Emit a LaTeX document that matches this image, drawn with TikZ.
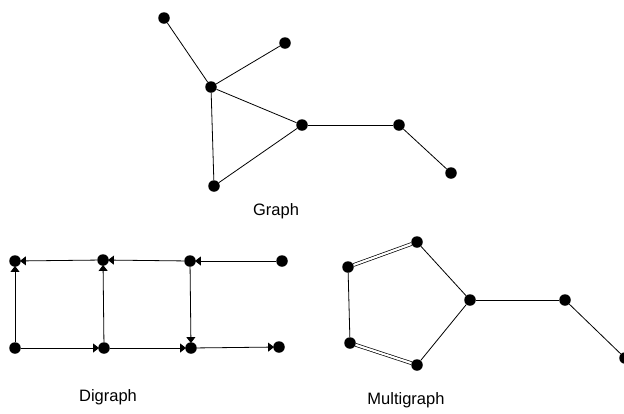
\documentclass[tikz,border=0pt]{standalone}
\usepackage{fontspec}
\setmainfont{Liberation Sans}
\usetikzlibrary{arrows.meta}
\begin{document}
\begin{tikzpicture}[x=1pt,y=-1pt,
  vtx/.style={circle,fill=black,inner sep=0pt,minimum size=11.5pt},
  edge/.style={line width=0.8pt},
  arc/.style={line width=0.8pt,shorten >=-1pt,-{Triangle[length=6pt,width=9pt]}},
  multi/.style={line width=0.7pt,double,double distance=2.2pt},
  caption/.style={font=\fontsize{16.5}{19}\selectfont,anchor=base}]
\useasboundingbox (0,0) rectangle (624,413);

% Graph
\node[vtx] (a) at (164,18) {};
\node[vtx] (b) at (285,43) {};
\node[vtx] (c) at (211,87) {};
\node[vtx] (d) at (302,125) {};
\node[vtx] (e) at (399,125) {};
\node[vtx] (f) at (451,173) {};
\node[vtx] (g) at (214,186) {};
\draw[edge] (a) -- (c);
\draw[edge] (b) -- (c);
\draw[edge] (c) -- (d);
\draw[edge] (c) -- (g);
\draw[edge] (g) -- (d);
\draw[edge] (d) -- (e);
\draw[edge] (e) -- (f);
\node[caption] (gl) at (276,215) {Graph};

% Digraph
\node[vtx] (t1) at (15,261) {};
\node[vtx] (t2) at (103,260) {};
\node[vtx] (t3) at (190,261) {};
\node[vtx] (t4) at (282,261) {};
\node[vtx] (u1) at (15,348) {};
\node[vtx] (u2) at (104,348) {};
\node[vtx] (u3) at (191,348) {};
\node[vtx] (u4) at (279,347) {};
\draw[arc] (t4) -- (t3);
\draw[arc] (t3) -- (t2);
\draw[arc] (t2) -- (t1);
\draw[arc] (u1) -- (t1);
\draw[arc] (u2) -- (t2);
\draw[arc] (t3) -- (u3);
\draw[arc] (u1) -- (u2);
\draw[arc] (u2) -- (u3);
\draw[arc] (u3) -- (u4);
\node[caption] (dl) at (108,401) {Digraph};

% Multigraph
\node[vtx] (p1) at (348,267) {};
\node[vtx] (p2) at (417,242) {};
\node[vtx] (p3) at (470,300) {};
\node[vtx] (p4) at (350,343) {};
\node[vtx] (p5) at (417,365) {};
\node[vtx] (q) at (565,300) {};
\node[vtx] (r) at (625,358) {};
\draw[multi] (p1) -- (p2);
\draw[multi] (p4) -- (p5);
\draw[edge] (p1) -- (p4);
\draw[edge] (p5) -- (p3);
\draw[edge] (p3) -- (p2);
\draw[edge] (p3) -- (q);
\draw[edge] (q) -- (r);
\node[caption] (ml) at (406,404) {Multigraph};
\end{tikzpicture}
\end{document}
